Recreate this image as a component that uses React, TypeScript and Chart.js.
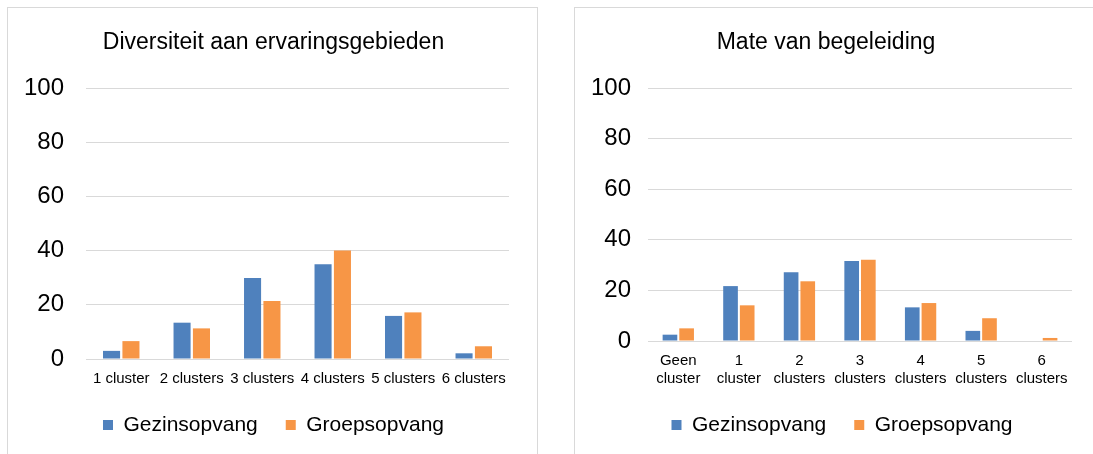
import React, { useEffect, useRef } from 'react';
import { Chart, registerables } from 'chart.js';

Chart.register(...registerables);

const seriesNames = ['Gezinsopvang', 'Groepsopvang'];
const seriesColors = ['#4F81BD', '#F79646'];
const yTicks = [0, 20, 40, 60, 80, 100];

const diversiteitTitle = 'Diversiteit aan ervaringsgebieden';
const diversiteitCategories = ['1 cluster', '2 clusters', '3 clusters', '4 clusters', '5 clusters', '6 clusters'];
const diversiteitGezinsopvang = [3.0, 13.4, 29.9, 35.0, 15.9, 2.1];
const diversiteitGroepsopvang = [6.6, 11.3, 21.4, 40.0, 17.2, 4.7];

const begeleidingTitle = 'Mate van begeleiding';
const begeleidingCategories = [
  ['Geen', 'cluster'],
  ['1', 'cluster'],
  ['2', 'clusters'],
  ['3', 'clusters'],
  ['4', 'clusters'],
  ['5', 'clusters'],
  ['6', 'clusters'],
];
const begeleidingGezinsopvang = [2.5, 21.7, 27.2, 31.6, 13.3, 4.0, 0];
const begeleidingGroepsopvang = [5.0, 14.1, 23.6, 32.1, 15.0, 9.0, 1.2];

const FONT = "'Liberation Sans', Arial, sans-serif";
const Y_FONT_SIZE = 24;
// widest tick label "100": three digits of 0.556 em each
const Y_WIDEST = 3 * 0.556 * Y_FONT_SIZE;

type PanelProps = {
  title: string;
  categories: (string | string[])[];
  a: number[];
  b: number[];
  left: number;
  width: number;
  padLeft: number;
  padRight: number;
  yWidth: number;
  tickGap: number;
  xHeight: number;
};

function Panel(p: PanelProps) {
  const ref = useRef<HTMLCanvasElement | null>(null);
  useEffect(() => {
    if (!ref.current) return;
    const chart = new Chart(ref.current, {
      type: 'bar',
      data: {
        labels: p.categories as any,
        datasets: [
          {
            label: seriesNames[0],
            data: p.a,
            backgroundColor: seriesColors[0],
            categoryPercentage: 0.55,
            barPercentage: 0.88,
          },
          {
            label: seriesNames[1],
            data: p.b,
            backgroundColor: seriesColors[1],
            categoryPercentage: 0.55,
            barPercentage: 0.88,
          },
        ],
      },
      options: {
        responsive: false,
        animation: false,
        devicePixelRatio: 1,
        layout: { padding: { left: p.padLeft, right: p.padRight, top: 0, bottom: 8.5 } },
        plugins: {
          title: {
            display: true,
            text: p.title,
            color: '#000',
            font: { family: FONT, size: 23, weight: 'normal' },
            padding: { top: 21, bottom: 31.4 },
          },
          legend: {
            position: 'bottom',
            labels: {
              color: '#000',
              font: { family: FONT, size: 21 },
              boxWidth: 10,
              boxHeight: 10,
              padding: 28,
            },
          },
          tooltip: { enabled: false },
        },
        scales: {
          x: {
            grid: { display: false, drawTicks: false },
            border: { display: false },
            ticks: {
              color: '#000',
              font: { family: FONT, size: 15 },
              padding: 11,
              maxRotation: 0,
              minRotation: 0,
              autoSkip: false,
            },
            afterFit: (s: any) => {
              s.height = p.xHeight;
            },
          },
          y: {
            min: 0,
            max: 100,
            afterBuildTicks: (s: any) => {
              s.ticks = yTicks.map((v) => ({ value: v }));
            },
            grid: { color: '#D9D9D9', drawTicks: false, lineWidth: 1 },
            border: { display: false },
            ticks: {
              color: '#000',
              font: { family: FONT, size: Y_FONT_SIZE },
              mirror: true,
              crossAlign: 'far',
              padding: -(p.tickGap + Y_WIDEST),
            },
            afterFit: (s: any) => {
              s.width = p.yWidth;
            },
          },
        },
      },
    });
    return () => chart.destroy();
  }, []);
  return (
    <canvas
      ref={ref}
      width={p.width}
      height={446}
      style={{ position: 'absolute', left: p.left, top: 8, width: p.width, height: 446 }}
    />
  );
}

export default function App() {
  return (
    <div
      style={{
        position: 'absolute',
        left: 0,
        top: 0,
        width: 1093,
        height: 454,
        overflow: 'hidden',
        background: '#fff',
      }}
    >
      <div
        style={{
          position: 'absolute',
          left: 7,
          top: 7,
          width: 531,
          height: 470,
          border: '1px solid #D9D9D9',
          boxSizing: 'border-box',
        }}
      />
      <div
        style={{
          position: 'absolute',
          left: 574,
          top: 7,
          width: 600,
          height: 470,
          border: '1px solid #D9D9D9',
          boxSizing: 'border-box',
        }}
      />
      <Panel
        title={diversiteitTitle}
        categories={diversiteitCategories}
        a={diversiteitGezinsopvang}
        b={diversiteitGroepsopvang}
        left={8}
        width={529}
        padLeft={30}
        padRight={28}
        yWidth={48}
        tickGap={22}
        xHeight={27.5}
      />
      <Panel
        title={begeleidingTitle + '\u00a0\u00a0\u00a0\u00a0\u00a0'}
        categories={begeleidingCategories}
        a={begeleidingGezinsopvang}
        b={begeleidingGroepsopvang}
        left={575}
        width={504}
        padLeft={36}
        padRight={6}
        yWidth={37}
        tickGap={17}
        xHeight={45.5}
      />
    </div>
  );
}
